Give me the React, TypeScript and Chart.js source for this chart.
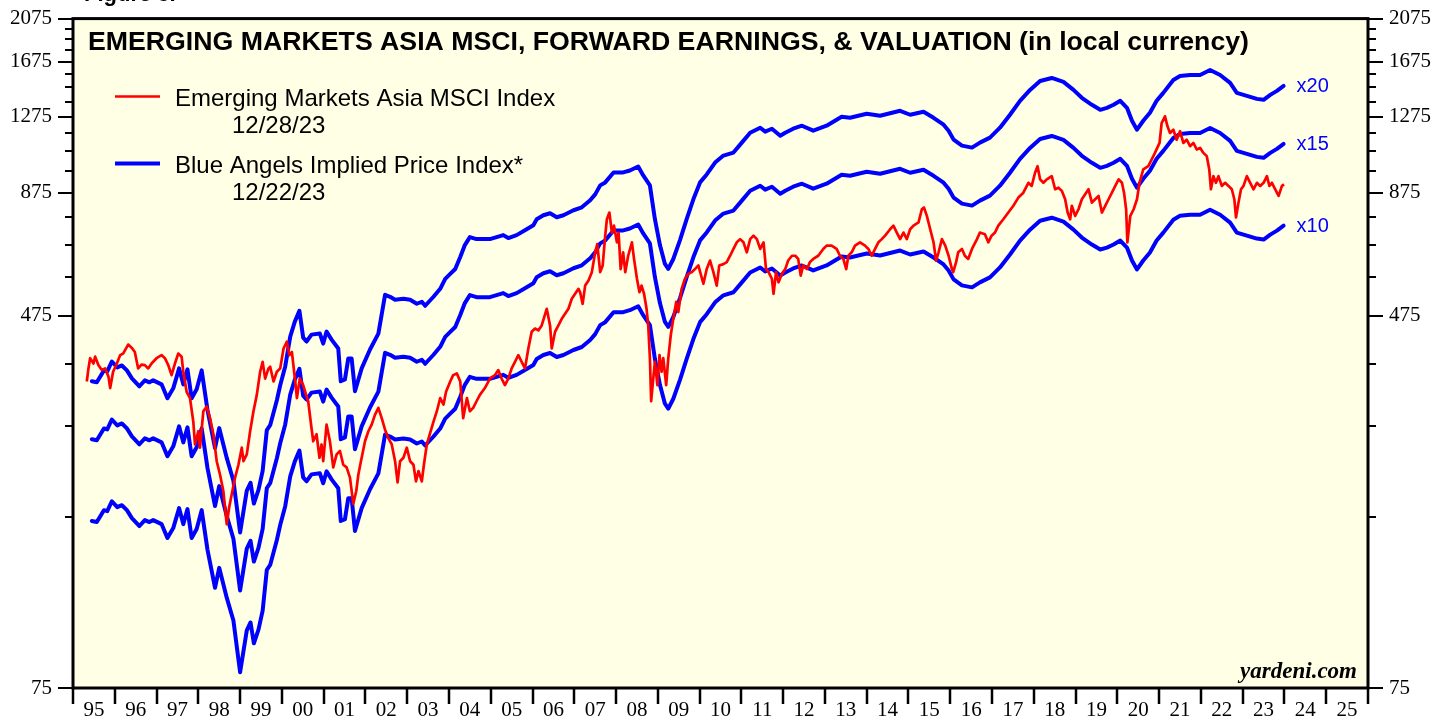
import React, { useEffect, useRef } from 'react';
import { Chart, registerables } from 'chart.js';

Chart.register(...registerables);

// ---------- DATA ----------
// Emerging Markets Asia MSCI price index (local currency)
const indexYears = [
  1995.33, 1995.37, 1995.41, 1995.49, 1995.53, 1995.61, 1995.69, 1995.77, 1995.85, 1995.89, 1995.96,
  1996.05, 1996.13, 1996.2, 1996.32, 1996.41, 1996.48, 1996.56, 1996.64, 1996.72, 1996.8, 1996.88,
  1997.0, 1997.12, 1997.2, 1997.28, 1997.36, 1997.44, 1997.52, 1997.6, 1997.64, 1997.72, 1997.8, 1997.88, 1997.92,
  1998.0, 1998.04, 1998.12, 1998.2, 1998.28, 1998.36, 1998.44, 1998.52, 1998.6, 1998.68, 1998.74, 1998.8, 1998.88, 1998.96,
  1999.04, 1999.08, 1999.16, 1999.24, 1999.32, 1999.4, 1999.48, 1999.54, 1999.6, 1999.68, 1999.72, 1999.8, 1999.88, 1999.96,
  2000.04, 2000.12, 2000.18, 2000.24, 2000.32, 2000.36, 2000.43, 2000.51, 2000.58, 2000.63, 2000.71, 2000.75, 2000.83, 2000.9, 2000.95, 2000.99,
  2001.07, 2001.15, 2001.23, 2001.31, 2001.39, 2001.47, 2001.55, 2001.63, 2001.71, 2001.78, 2001.83, 2001.91, 2001.99,
  2002.07, 2002.15, 2002.23, 2002.31, 2002.39, 2002.47, 2002.55, 2002.63, 2002.71, 2002.77, 2002.83, 2002.91, 2002.99,
  2003.07, 2003.15, 2003.21, 2003.27, 2003.35, 2003.4, 2003.47, 2003.55, 2003.63, 2003.71, 2003.79, 2003.87, 2003.93,
  2004.03, 2004.1, 2004.19, 2004.27, 2004.34, 2004.43, 2004.5, 2004.58, 2004.66, 2004.74, 2004.86, 2004.98,
  2005.1, 2005.18, 2005.26, 2005.34, 2005.42, 2005.5, 2005.58, 2005.66, 2005.74, 2005.82, 2005.9, 2005.98,
  2006.06, 2006.14, 2006.22, 2006.34, 2006.42, 2006.46, 2006.54, 2006.62, 2006.7, 2006.78, 2006.86, 2006.94,
  2007.02, 2007.1, 2007.14, 2007.2, 2007.26, 2007.34, 2007.42, 2007.5, 2007.55, 2007.62, 2007.68, 2007.74, 2007.78, 2007.84, 2007.9, 2007.95,
  2008.02, 2008.06, 2008.11, 2008.17, 2008.22, 2008.29, 2008.38, 2008.43, 2008.5, 2008.56, 2008.61, 2008.67, 2008.73, 2008.77, 2008.81, 2008.84, 2008.89, 2008.93, 2008.99,
  2009.04, 2009.09, 2009.13, 2009.2, 2009.25, 2009.31, 2009.37, 2009.44, 2009.49, 2009.57, 2009.65, 2009.73, 2009.81, 2009.89, 2009.97,
  2010.09, 2010.17, 2010.25, 2010.33, 2010.41, 2010.47, 2010.57, 2010.65, 2010.73, 2010.81, 2010.89, 2010.97,
  2011.05, 2011.13, 2011.21, 2011.29, 2011.37, 2011.45, 2011.53, 2011.59, 2011.65, 2011.73, 2011.77, 2011.83, 2011.89, 2011.97,
  2012.05, 2012.12, 2012.21, 2012.29, 2012.36, 2012.42, 2012.48, 2012.57, 2012.64, 2012.72, 2012.84, 2012.96,
  2013.04, 2013.16, 2013.28, 2013.36, 2013.44, 2013.51, 2013.56, 2013.64, 2013.72, 2013.84, 2013.96,
  2014.04, 2014.12, 2014.2, 2014.28, 2014.36, 2014.44, 2014.56, 2014.64, 2014.72, 2014.8, 2014.88, 2014.96,
  2015.04, 2015.12, 2015.24, 2015.32, 2015.37, 2015.44, 2015.52, 2015.6, 2015.66, 2015.72, 2015.8, 2015.88, 2015.96,
  2016.04, 2016.07, 2016.14, 2016.19, 2016.28, 2016.35, 2016.43, 2016.52, 2016.64, 2016.71, 2016.83, 2016.91, 2016.99,
  2017.07, 2017.15, 2017.27, 2017.39, 2017.51, 2017.63, 2017.75, 2017.87, 2017.95,
  2018.03, 2018.09, 2018.15, 2018.23, 2018.31, 2018.43, 2018.51, 2018.59, 2018.67, 2018.75, 2018.81, 2018.87, 2018.91, 2018.99,
  2019.07, 2019.15, 2019.23, 2019.31, 2019.39, 2019.47, 2019.55, 2019.63, 2019.71, 2019.79, 2019.87, 2019.95,
  2020.03, 2020.11, 2020.16, 2020.21, 2020.24, 2020.31, 2020.39, 2020.47, 2020.53, 2020.62, 2020.74, 2020.82, 2020.9,
  2021.01, 2021.06, 2021.14, 2021.2, 2021.26, 2021.34, 2021.42, 2021.5, 2021.58, 2021.66, 2021.74, 2021.82, 2021.9, 2021.98,
  2022.06, 2022.14, 2022.2, 2022.24, 2022.3, 2022.36, 2022.42, 2022.5, 2022.58, 2022.66, 2022.74, 2022.8, 2022.84, 2022.9, 2022.96,
  2023.02, 2023.1, 2023.18, 2023.26, 2023.34, 2023.42, 2023.5, 2023.58, 2023.64, 2023.7, 2023.78, 2023.86, 2023.94, 2023.99,
];
const indexValues = [
  343, 366, 385, 375, 388, 372, 363, 366, 351, 332, 360,
  375, 391, 394, 412, 405, 397, 366, 373, 372, 366, 375,
  385, 391, 385, 372, 354, 375, 394, 388, 360, 326, 316, 281, 251,
  268, 247, 296, 303, 286, 264, 231, 216, 199, 169, 184, 196, 213, 227,
  247, 231, 239, 268, 296, 321, 360, 378, 348, 366, 369, 343, 360, 366,
  404, 418, 391, 397, 343, 316, 348, 337, 321, 311, 272, 255, 264, 235, 251, 231,
  277, 255, 224, 239, 243, 227, 224, 213, 187, 199, 216, 235, 255,
  268, 277, 291, 301, 286, 270, 259, 251, 231, 208, 231, 235, 247,
  231, 227, 209, 220, 209, 227, 251, 266, 281, 296, 316, 306, 326,
  343, 354, 357, 343, 286, 316, 296, 301, 311, 321, 332, 348,
  354, 363, 348, 337, 348, 366, 378, 391, 378, 366, 404, 439,
  446, 442, 453, 492, 453, 404, 439, 453, 468, 480, 492, 517,
  530, 543, 534, 504, 552, 566, 590, 651, 678, 590, 610, 707, 767, 793, 718, 743,
  684, 718, 599, 651, 590, 640, 684, 630, 571, 534, 552, 530, 492, 453, 385, 311, 348, 378, 337,
  391, 360, 385, 337, 385, 432, 468, 509, 484, 543, 571, 585, 590, 599, 610,
  557, 599, 625, 590, 552, 610, 614, 620, 640, 662, 684, 695,
  684, 651, 695, 707, 695, 662, 684, 599, 590, 571, 530, 590, 561, 585,
  599, 625, 640, 640, 630, 580, 610, 599, 620, 630, 640, 662,
  673, 673, 662, 640, 630, 599, 640, 651, 673, 684, 673,
  662, 640, 662, 684, 695, 707, 730, 743, 718, 695, 718, 695,
  730, 743, 755, 806, 813, 780, 730, 684, 625, 651, 695, 673, 640,
  599, 590, 620, 651, 662, 640, 630, 662, 695, 718, 712, 684, 707,
  718, 743, 767, 793, 820, 854, 875, 919, 905,
  966, 998, 935, 919, 935, 950, 890, 897, 883, 847, 793, 767, 820, 780,
  806, 847, 868, 890, 833, 847, 861, 793, 820, 847, 875, 905,
  935, 919, 875, 806, 684, 780, 806, 847, 919, 982, 998, 1031, 1066,
  1120, 1236, 1278, 1216, 1177, 1196, 1138, 1187, 1120, 1138, 1102, 1120, 1084, 1093,
  1066, 1049, 982, 890, 950, 919, 950, 905, 919, 905, 890, 847, 774, 833, 890,
  905, 950, 919, 890, 919, 905, 919, 950, 905, 919, 890, 861, 905, 912,
];

// Forward earnings (local currency); implied price = earnings x multiple
const earningsYears = [
  1995.45, 1995.57, 1995.74, 1995.82, 1995.93, 1996.06, 1996.17, 1996.29, 1996.41, 1996.59, 1996.72, 1996.83, 1996.92,
  1997.12, 1997.26, 1997.4, 1997.54, 1997.64, 1997.74, 1997.84, 1997.96, 1998.08, 1998.22, 1998.4, 1998.5, 1998.68, 1998.84,
  1999.0, 1999.16, 1999.25, 1999.33, 1999.44, 1999.54, 1999.64, 1999.72, 1999.88, 1999.96,
  2000.08, 2000.2, 2000.31, 2000.42, 2000.51, 2000.59, 2000.71, 2000.91, 2000.99,
  2001.07, 2001.19, 2001.35, 2001.41, 2001.51, 2001.59, 2001.67, 2001.75, 2001.91,
  2002.11, 2002.31, 2002.47, 2002.59, 2002.71, 2002.91, 2003.07, 2003.23, 2003.35, 2003.43, 2003.63, 2003.79, 2003.91,
  2004.03, 2004.15, 2004.27, 2004.38, 2004.5, 2004.66, 2004.98, 2005.14, 2005.3, 2005.42, 2005.62, 2005.86,
  2006.02, 2006.1, 2006.26, 2006.42, 2006.58, 2006.74, 2006.98, 2007.18, 2007.38, 2007.5, 2007.62, 2007.74, 2007.94,
  2008.17, 2008.33, 2008.53, 2008.65, 2008.81, 2008.93, 2009.05, 2009.17, 2009.25, 2009.37, 2009.53, 2009.69, 2009.85,
  2010.01, 2010.17, 2010.37, 2010.57, 2010.81, 2010.97, 2011.21, 2011.45, 2011.57, 2011.73, 2011.93,
  2012.05, 2012.24, 2012.45, 2012.72, 2013.04, 2013.4, 2013.6, 2014.0, 2014.32, 2014.8,
  2015.04, 2015.36, 2015.6, 2015.84, 2015.96, 2016.08, 2016.28, 2016.52, 2016.71, 2016.95,
  2017.19, 2017.43, 2017.67, 2017.91, 2018.15, 2018.43, 2018.71, 2018.95, 2019.15, 2019.39, 2019.59, 2019.75, 2019.91,
  2020.07, 2020.23, 2020.35, 2020.47, 2020.62, 2020.78, 2020.94, 2021.1, 2021.34, 2021.5, 2021.74, 2021.98,
  2022.22, 2022.46, 2022.7, 2022.86, 2023.1, 2023.34, 2023.5, 2023.66, 2023.82, 2023.98,
];
const forwardEarnings = [
  17.17, 17.08, 18.12, 18.03, 18.94, 18.39, 18.57, 18.12, 17.42, 16.75, 17.25, 17.08, 17.25,
  16.91, 15.78, 16.58, 18.3, 16.91, 18.21, 15.78, 16.5, 18.12, 14.88, 12.33, 13.61, 11.74, 10.48,
  8.11, 9.98, 10.38, 9.36, 10.02, 11.01, 13.48, 13.81, 15.63, 16.83,
  18.48, 21.43, 23.08, 24.36, 21.32, 20.91, 21.64, 21.75, 20.7,
  21.97, 21.11, 20.2, 17.17, 17.33, 19.23, 19.23, 16.34, 18.3,
  20.1, 21.75, 26.36, 26.11, 25.72, 25.85, 25.72, 25.22, 25.47, 24.97, 26.11, 27.16, 28.53,
  29.24, 29.97, 31.8, 33.74, 35.1, 34.75, 34.75, 35.1, 35.45, 34.93, 35.45, 36.51,
  37.24, 38.36, 39.12, 39.51, 38.74, 39.12, 40.1, 40.7, 42.13, 43.39, 45.37, 46.04, 48.37,
  48.37, 48.85, 49.82, 47.66, 45.37, 38.36, 33.74, 30.72, 29.97, 31.49, 34.58, 38.36, 42.34,
  46.04, 47.89, 50.81, 52.6, 53.39, 55.53, 58.92, 60.39, 59.21, 60.09, 58.05,
  58.92, 60.09, 60.99, 59.5, 60.99, 63.76, 63.44, 64.71, 64.08, 65.68,
  64.4, 65.36, 63.44, 61.3, 59.5, 56.92, 55.26, 54.71, 56.08, 57.48,
  60.39, 64.4, 69.01, 72.84, 76.15, 77.29, 75.78, 72.84, 70.04, 67.66, 66.0, 66.65, 67.66,
  69.01, 66.65, 62.51, 59.8, 62.51, 65.03, 69.01, 71.77, 76.53, 78.05, 78.43, 78.43,
  80.4, 78.43, 75.41, 71.77, 70.73, 69.68, 69.34, 71.07, 72.49, 74.29,
];
const multiples = [20, 15, 10];
const multipleLabels = ['x20', 'x15', 'x10'];

const yTicks = [75, 175, 275, 375, 475, 575, 675, 775, 875, 975, 1075, 1175, 1275, 1375, 1475, 1575, 1675, 1775, 1875, 1975, 2075];
const yLabeledTicks = [75, 475, 875, 1275, 1675, 2075];
const yearLabels = ['95', '96', '97', '98', '99', '00', '01', '02', '03', '04', '05', '06', '07', '08', '09', '10',
  '11', '12', '13', '14', '15', '16', '17', '18', '19', '20', '21', '22', '23', '24', '25'];
const firstYear = 1995;

const titleText = 'EMERGING MARKETS ASIA MSCI, FORWARD EARNINGS, & VALUATION (in local currency)';
const legendItems = [
  { label: 'Emerging Markets Asia MSCI Index', date: '12/28/23', color: '#FF0000', width: 2.5 },
  { label: 'Blue Angels Implied Price Index*', date: '12/22/23', color: '#0000FF', width: 4 },
];

const SANS = '"Liberation Sans", Arial, Helvetica, sans-serif';
const SERIF = '"Liberation Serif", "Times New Roman", Times, serif';
const RED = '#FF0000';
const BLUE = '#0000FF';
const PLOT_BG = '#FFFFE6';

const decorPlugin = {
  id: 'decor',
  beforeDraw(chart: any) {
    const { ctx, chartArea: a } = chart;
    ctx.save();
    ctx.fillStyle = '#FFFFFF';
    ctx.fillRect(0, 0, chart.width, chart.height);
    ctx.fillStyle = PLOT_BG;
    ctx.fillRect(a.left, a.top, a.right - a.left, a.bottom - a.top);
    ctx.restore();
  },
  afterDraw(chart: any) {
    const { ctx, chartArea: a, scales } = chart;
    const ys = scales.y;
    const xs = scales.x;
    ctx.save();
    const line = (x1: number, y1: number, x2: number, y2: number) => {
      ctx.beginPath();
      ctx.moveTo(x1, y1);
      ctx.lineTo(x2, y2);
      ctx.stroke();
    };
    ctx.strokeStyle = '#000';
    // y tick marks both sides
    ctx.lineWidth = 2;
    yTicks.forEach((v) => {
      const p = Math.round(ys.getPixelForValue(v));
      const len = yLabeledTicks.includes(v) ? 15 : 8;
      line(a.left - len, p, a.left, p);
      line(a.right, p, a.right + len, p);
    });
    // x tick marks at year boundaries
    ctx.lineWidth = 2.5;
    for (let i = 0; i <= yearLabels.length; i++) {
      const p = Math.round(xs.getPixelForValue(firstYear + i));
      line(p, a.bottom, p, a.bottom + 16);
    }
    // plot frame
    ctx.lineWidth = 3;
    ctx.strokeRect(a.left, a.top, a.right - a.left, a.bottom - a.top);

    // Figure caption (cut off at top)
    ctx.fillStyle = '#000';
    ctx.font = `bold 22px ${SANS}`;
    ctx.textAlign = 'left';
    ctx.textBaseline = 'alphabetic';
    ctx.fillText('Figure 3.', 84, 1);

    // Title
    ctx.font = `bold 26.7px ${SANS}`;
    ctx.fillText(titleText, a.left + 15, a.top + 31);

    // Legend
    ctx.font = `24px ${SANS}`;
    legendItems.forEach((it, i) => {
      const base = a.top + 87 + i * 67;
      ctx.strokeStyle = it.color;
      ctx.lineWidth = it.width;
      line(a.left + 42, base - 9, a.left + 87, base - 9);
      ctx.fillStyle = '#000';
      ctx.fillText(it.label, a.left + 102, base);
      ctx.fillText(it.date, a.left + 159, base + 27);
    });

    // Multiple labels at ends of blue lines
    ctx.font = `20px ${SANS}`;
    ctx.fillStyle = BLUE;
    ctx.textBaseline = 'middle';
    const lastE = forwardEarnings[forwardEarnings.length - 1];
    const lastX = xs.getPixelForValue(earningsYears[earningsYears.length - 1]);
    multiples.forEach((m, i) => {
      const py = ys.getPixelForValue(lastE * m);
      ctx.fillText(multipleLabels[i], lastX + 13, py + 1);
    });

    // Source
    ctx.fillStyle = '#000';
    ctx.textBaseline = 'alphabetic';
    ctx.textAlign = 'right';
    ctx.font = `italic bold 23px ${SERIF}`;
    ctx.fillText('yardeni.com', a.right - 11, a.bottom - 10);
    ctx.restore();
  },
};

function buildConfig(): any {
  const redData = indexYears.map((x, i) => ({ x, y: indexValues[i] }));
  const blueSets = multiples.map((m) => ({
    label: 'x' + m,
    data: earningsYears.map((x, i) => ({ x, y: forwardEarnings[i] * m })),
    borderColor: BLUE,
    borderWidth: 4,
    pointRadius: 0,
    borderJoinStyle: 'round',
    borderCapStyle: 'round',
    tension: 0,
    yAxisID: 'y',
  }));
  const yAxis = (position: string, width: number) => ({
    type: 'logarithmic',
    position,
    min: 75,
    max: 2075,
    grid: { display: false, drawTicks: true, tickLength: 15 },
    border: { display: false },
    afterBuildTicks: (s: any) => {
      s.ticks = yTicks.map((v) => ({ value: v }));
    },
    afterFit: (s: any) => {
      s.width = width;
    },
    ticks: {
      autoSkip: false,
      padding: 6,
      color: '#000',
      font: { family: SERIF, size: 21 },
      callback: (v: any) => (yLabeledTicks.includes(Number(v)) ? String(v) : ''),
    },
  });
  return {
    type: 'line',
    data: {
      datasets: [
        {
          label: 'Emerging Markets Asia MSCI Index',
          data: redData,
          borderColor: RED,
          borderWidth: 2.7,
          pointRadius: 0,
          tension: 0,
          borderJoinStyle: 'round',
          yAxisID: 'y',
        },
        ...blueSets,
      ],
    },
    options: {
      responsive: false,
      animation: false,
      events: [],
      layout: { padding: { top: 15, left: 0, right: 0, bottom: 0 } },
      plugins: { legend: { display: false }, tooltip: { enabled: false }, title: { display: false } },
      scales: {
        x: {
          type: 'linear',
          min: firstYear,
          max: firstYear + yearLabels.length,
          grid: { display: false, drawTicks: false },
          border: { display: false },
          afterBuildTicks: (s: any) => {
            s.ticks = yearLabels.map((_, i) => ({ value: firstYear + i + 0.5 }));
          },
          afterFit: (s: any) => {
            s.height = 31;
          },
          ticks: {
            autoSkip: false,
            maxRotation: 0,
            padding: 10,
            color: '#000',
            font: { family: SERIF, size: 21 },
            callback: (_v: any, i: number) => yearLabels[i],
          },
        },
        y: yAxis('left', 73),
        y2: yAxis('right', 82),
      },
    },
    plugins: [decorPlugin],
  };
}

export default function App() {
  const ref = useRef<HTMLCanvasElement>(null);
  useEffect(() => {
    if (!ref.current) return;
    const chart = new Chart(ref.current, buildConfig());
    return () => chart.destroy();
  }, []);
  return (
    <div style={{ position: 'absolute', left: 0, top: 0, width: 1450, height: 719, background: '#fff' }}>
      <canvas ref={ref} width={1450} height={719} style={{ display: 'block', width: 1450, height: 719 }} />
    </div>
  );
}
